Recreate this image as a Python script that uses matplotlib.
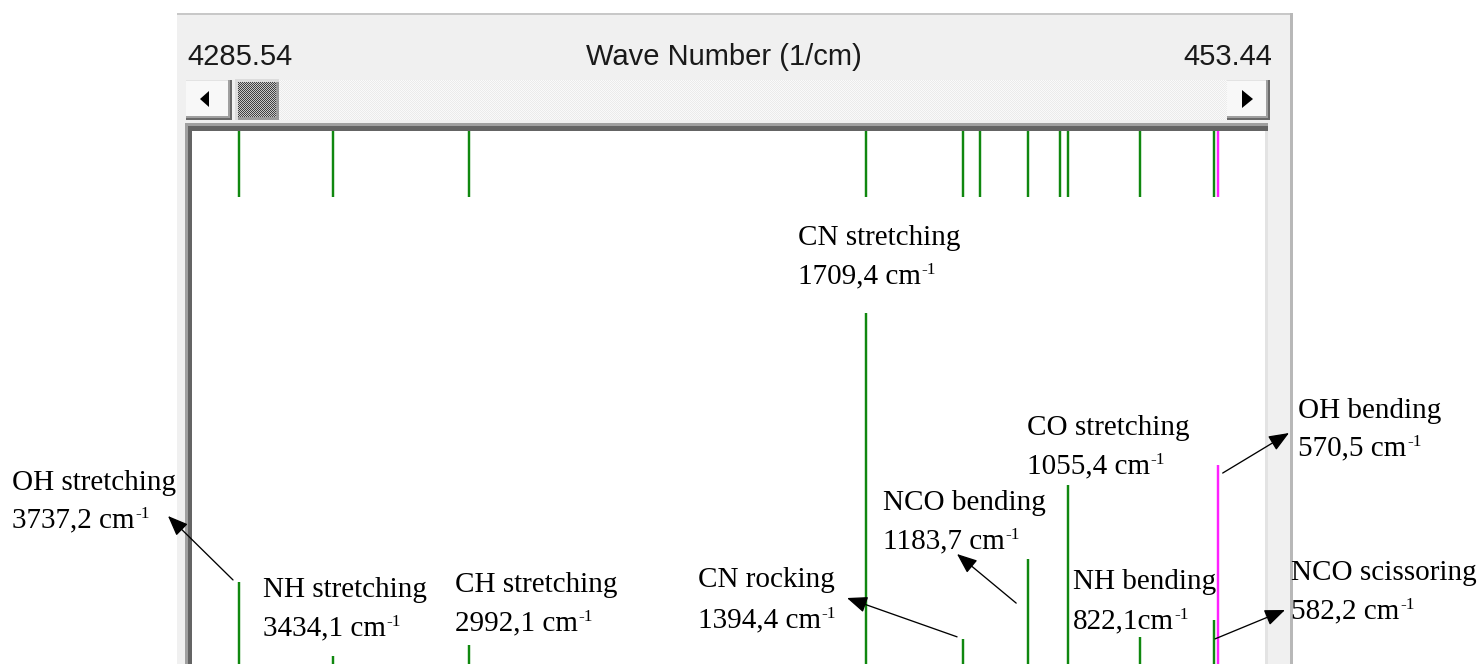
import matplotlib
matplotlib.use("Agg")
import matplotlib.pyplot as plt
import numpy as np
from matplotlib.patches import Rectangle, Polygon
from matplotlib.transforms import ScaledTranslation

# ---- vibrational modes (wavenumber in 1/cm, relative IR intensity) ----
wavenumbers = [3737.2, 3434.1, 2992.1, 1709.4, 1394.4, 1340.6,
               1183.7, 1081.7, 1055.4, 822.1, 582.2, 570.5]
intensities = [30.5, 11.4, 14.2, 100.0, 15.8, 2.0,
               36.4, 2.0, 55.6, 16.3, 20.7, 60.7]
mode_names = ["OH stretching", "NH stretching", "CH stretching",
              "CN stretching", "CN rocking", "", "NCO bending", "",
              "CO stretching", "NH bending", "NCO scissoring", "OH bending"]
selected_mode = 570.5

range_start = "4285.54"
range_end = "453.44"
axis_title = "Wave Number (1/cm)"

# ---- window geometry / styling ----
W, H, DPI = 1482, 664, 100
GREEN = "#10880f"
MAGENTA = "#ff20ff"
STICK_LW = 1.75

# label placement in window pixels: left x, baselines of both lines,
# separator before the unit, arrow head and arrow tail offset from stick tip
label_layout = {
    3737.2: dict(x=12, y=(490, 527), sep=" ", head=(168, 516), tail=(-6, 2)),
    3434.1: dict(x=263, y=(597, 635), sep=" "),
    2992.1: dict(x=455, y=(592, 630), sep=" "),
    1709.4: dict(x=798, y=(245, 283), sep=" "),
    1394.4: dict(x=698, y=(587, 627), sep=" ", head=(847, 598), tail=(-6, 2)),
    1183.7: dict(x=883, y=(510, 548), sep=" ", head=(957, 554), tail=(-12, -44)),
    1055.4: dict(x=1027, y=(435, 473), sep=" "),
    822.1: dict(x=1073, y=(589, 628), sep=""),
    582.2: dict(x=1291, y=(580, 618), sep=" ", head=(1285, 610), tail=(1, -19)),
    570.5: dict(x=1298, y=(418, 455), sep=" ", head=(1289, 433), tail=(5, -8)),
}

fig = plt.figure(figsize=(W / DPI, H / DPI), dpi=DPI, facecolor="white")

# background layer in window pixel coordinates (y grows downward)
bg = fig.add_axes([0, 0, 1, 1], zorder=0)
bg.set_xlim(0, W)
bg.set_ylim(H, 0)
bg.axis("off")


def rect(x0, y0, x1, y1, color):
    bg.add_patch(Rectangle((x0, y0), x1 - x0, y1 - y0, facecolor=color,
                           edgecolor="none", antialiased=False))


# dialog panel
rect(177, 13, 1293, H, "#f0f0f0")
rect(177, 13, 1293, 15, "#c8c8c8")
rect(1290, 13, 1293, H, "#b8b8b8")

# scroll bar buttons
for x0, x1 in [(186, 232), (1227, 1270)]:
    rect(x0, 80, x1, 120, "#f8f8f8")
    rect(x0, 80, x1, 81, "#e3e3e3")
    rect(x1 - 4, 80, x1, 120, "#a0a0a0")
    rect(x0, 116, x1, 120, "#a0a0a0")
    rect(x1 - 2, 80, x1, 120, "#696969")
    rect(x0, 118, x1, 120, "#696969")
bg.add_patch(Polygon([(200, 99), (209, 91), (209, 107)], closed=True,
                     facecolor="black", edgecolor="none"))
bg.add_patch(Polygon([(1253, 99), (1242, 90), (1242, 108)], closed=True,
                     facecolor="black", edgecolor="none"))

# thumb frame
rect(235, 79, 279, 120, "#9a9a9a")
rect(235, 79, 279, 82, "#dcdcdc")
rect(235, 79, 238, 120, "#dcdcdc")


def checker(w, h, c1, c2):
    c1 = np.array(matplotlib.colors.to_rgb(c1))
    c2 = np.array(matplotlib.colors.to_rgb(c2))
    ii, jj = np.indices((h, w))
    mask = ((ii + jj) % 2 == 0)[..., None]
    return np.where(mask, c1, c2)


# scroll track and thumb textures
fig.figimage(checker(1227 - 279, 40, "#fafafa", "#ebebeb"),
             xo=279, yo=H - 120, origin="upper", zorder=0.5)
fig.figimage(checker(276 - 238, 117 - 82, "#404040", "#c8c8c8"),
             xo=238, yo=H - 117, origin="upper", zorder=0.6)

# sunken frame around the spectrum
rect(185, 123, 1268, 131, "#a0a0a0")
rect(188, 126, 1268, 131, "#646464")
rect(185, 123, 192, H, "#a0a0a0")
rect(188, 126, 192, H, "#646464")
rect(1265, 131, 1268, H, "#e3e3e3")

# ---- spectrum ----
ax = fig.add_axes([192 / W, 0, (1265 - 192) / W, (H - 131) / H], zorder=1)
ax.set_facecolor("white")
for s in ax.spines.values():
    s.set_visible(False)
ax.set_xticks([])
ax.set_yticks([])

wn = np.array(wavenumbers)
inten = np.array(intensities)
sel = np.isclose(wn, selected_mode)

# intensity sticks
ax.vlines(wn[~sel], 0, inten[~sel], color=GREEN, lw=STICK_LW)
ax.vlines(wn[sel], 0, inten[sel], color=MAGENTA, lw=STICK_LW, zorder=3)

# position markers along the top of the plot
strip = ax.get_xaxis_transform()
strip_bottom = 1 - 66 / (H - 131)
ax.vlines(wn[~sel], strip_bottom, 1, transform=strip, color=GREEN, lw=STICK_LW)
ax.vlines(wn[sel], strip_bottom, 1, transform=strip, color=MAGENTA,
          lw=STICK_LW, zorder=3)

ax.set_xlim(3889.3, 417.4)
ax.set_ylim(9.3, 147.0)

# ---- text layer ----
scr = fig.add_axes([0, 0, 1, 1], zorder=2)
scr.set_xlim(0, W)
scr.set_ylim(H, 0)
scr.axis("off")
scr.patch.set_visible(False)

hdr = dict(family="Liberation Sans", fontsize=21, color="#1a1a1a", va="baseline")
scr.text(187, 65, range_start, ha="left", **hdr)
scr.text(724, 65, axis_title, ha="center", **hdr)
scr.text(1272, 65, range_end, ha="right", **hdr)

lab = dict(family="Liberation Serif", fontsize=21, color="black",
           va="baseline", ha="left")


def fmt(v):
    return f"{v:.1f}".replace(".", ",")


for w, name, inten_val in zip(wavenumbers, mode_names, intensities):
    lay = label_layout.get(w)
    if lay is None:
        continue
    y1, y2 = lay["y"]
    scr.text(lay["x"], y1, name, **lab)
    t2 = scr.text(lay["x"], y2, fmt(w) + lay["sep"] + "cm", **lab)
    scr.annotate("-1", xy=(1, 1), xycoords=t2, xytext=(0.6, 0.5),
                 textcoords="offset points", va="top", ha="left",
                 fontsize=12.5, family="Liberation Serif", color="black")
    if "head" in lay:
        dx, dy = lay["tail"]
        tail_tr = ax.transData + ScaledTranslation(dx / DPI, dy / DPI,
                                                   fig.dpi_scale_trans)
        scr.annotate("", xy=lay["head"], xycoords="data",
                     xytext=(w, inten_val), textcoords=tail_tr,
                     arrowprops=dict(arrowstyle="-|>,head_length=0.62,head_width=0.25",
                                     mutation_scale=20, color="black", lw=0.95,
                                     shrinkA=0, shrinkB=0),
                     annotation_clip=False)

fig.savefig("out.png", dpi=DPI, facecolor="white")
